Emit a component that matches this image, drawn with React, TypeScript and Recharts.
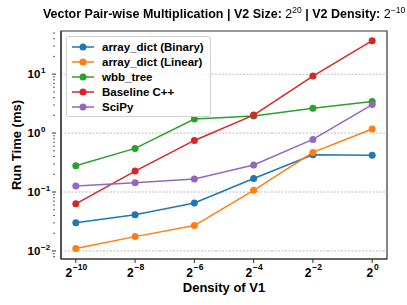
import React from 'react'
import {
  LineChart, Line, XAxis, YAxis, ReferenceLine, ReferenceArea, Label,
} from 'recharts'

// x = log2(density of V1)
const densityExp = [-10, -8, -6, -4, -2, 0]

const arrayDictBinary = [0.030, 0.041, 0.065, 0.17, 0.43, 0.42]
const arrayDictLinear = [0.011, 0.0175, 0.027, 0.107, 0.47, 1.17]
const wbbTree = [0.28, 0.55, 1.73, 1.95, 2.65, 3.45]
const baselineCpp = [0.063, 0.227, 0.75, 2.02, 9.3, 37]
const sciPy = [0.126, 0.144, 0.167, 0.287, 0.78, 3.05]

const majorY = [0.01, 0.1, 1, 10]
const minorY = [0.008, 0.009, 0.02, 0.03, 0.04, 0.05, 0.06, 0.07, 0.08, 0.09,
  0.2, 0.3, 0.4, 0.5, 0.6, 0.7, 0.8, 0.9, 2, 3, 4, 5, 6, 7, 8, 9, 20, 30, 40, 50]

const SERIES = [
  { key: 'binary', name: 'array_dict (Binary)', color: '#1f77b4', values: arrayDictBinary },
  { key: 'linear', name: 'array_dict (Linear)', color: '#ff7f0e', values: arrayDictLinear },
  { key: 'wbb', name: 'wbb_tree', color: '#2ca02c', values: wbbTree },
  { key: 'baseline', name: 'Baseline C++', color: '#d62728', values: baselineCpp },
  { key: 'scipy', name: 'SciPy', color: '#9467bd', values: sciPy },
]

const data = densityExp.map((x, i) => {
  const row: Record<string, number> = { x }
  SERIES.forEach(s => { row[s.key] = s.values[i] })
  return row
})

const FONT = '"Liberation Sans", Arial, Helvetica, sans-serif'
const AXIS = '#333'

function YTick({ x, y, payload }: any) {
  const v = payload.value
  const exp = Math.round(Math.log10(v))
  const isMajor = Math.abs(Math.pow(10, exp) - v) < 1e-9
  if (!isMajor) {
    return <line x1={x + 0} x2={x + 2} y1={y} y2={y} stroke={AXIS} strokeWidth={0.8} />
  }
  const sup = exp < 0 ? '\u2212' + Math.abs(exp) : String(exp)
  return (
    <g>
      <line x1={x - 1} x2={x + 3} y1={y} y2={y} stroke={AXIS} strokeWidth={1} />
      <text x={x - 19} y={y + 4} textAnchor="middle" fontFamily={FONT} fontWeight="bold" fontSize={11.5} fill="#000">
        10
      </text>
      <text x={x - 12} y={y - 1} textAnchor="start" fontFamily={FONT} fontWeight="bold" fontSize={8} fill="#000">
        {sup}
      </text>
    </g>
  )
}

function XTick({ x, y, payload }: any) {
  const v = payload.value
  const sup = v < 0 ? '\u2212' + Math.abs(v) : String(v)
  const supW = sup.length * 4.6
  const left = x - (7 + supW) / 2
  return (
    <g>
      <line x1={x} x2={x} y1={y - 8} y2={y - 4} stroke={AXIS} strokeWidth={1} />
      <text x={left} y={y + 10} fontFamily={FONT} fontWeight="bold" fontSize={12} fill="#000">2</text>
      <text x={left + 7.5} y={y + 2.5} fontFamily={FONT} fontWeight="bold" fontSize={8.5} fill="#000">{sup}</text>
    </g>
  )
}

function LegendBox() {
  return (
    <div
      style={{
        position: 'absolute', left: 66, top: 36,
        border: '1px solid #d0d0d0', borderRadius: 3, background: 'rgba(255,255,255,0.85)',
        padding: '3px 6px 2px 4px', fontFamily: FONT, fontWeight: 'bold', fontSize: 11.5,
      }}
    >
      {SERIES.map(s => (
        <div key={s.key} style={{ display: 'flex', alignItems: 'center', height: 14.8 }}>
          <svg width={24} height={10} style={{ marginRight: 7 }}>
            <line x1={1} x2={23} y1={5} y2={5} stroke={s.color} strokeWidth={1.5} />
            <circle cx={12} cy={5} r={3.5} fill={s.color} />
          </svg>
          <span style={{ color: '#000', whiteSpace: 'nowrap' }}>{s.name}</span>
        </div>
      ))}
    </div>
  )
}

export default function App() {
  return (
    <div style={{ position: 'fixed', left: 0, top: 0, width: 407, height: 305, background: '#fff' }}>
      <LineChart width={407} height={305} data={data} margin={{ top: 31, right: 20, left: 0, bottom: 0 }}>
        <XAxis
          dataKey="x"
          type="number"
          domain={[-10.5, 0.5]}
          ticks={densityExp}
          interval={0}
          allowDataOverflow
          axisLine={{ stroke: AXIS, strokeWidth: 1.2 }}
          tickLine={false}
          tick={<XTick />}
          height={46}
        >
          <Label value="Density of V1" position="insideBottom" offset={13}
            style={{ fontFamily: FONT, fontWeight: 'bold', fontSize: 13, fill: '#000' }} />
        </XAxis>
        <YAxis
          type="number"
          scale="log"
          domain={[0.0073, 54]}
          ticks={[...minorY, ...majorY].sort((a, b) => a - b)}
          interval={0}
          allowDataOverflow
          axisLine={{ stroke: AXIS, strokeWidth: 1.2 }}
          tickLine={false}
          tick={<YTick />}
          width={61}
        >
          <Label value="Run Time (ms)" angle={-90} position="insideLeft" offset={16}
            style={{ textAnchor: 'middle', fontFamily: FONT, fontWeight: 'bold', fontSize: 13, fill: '#000' }} />
        </YAxis>
        {majorY.map(v => (
          <ReferenceLine key={v} y={v} stroke="#aaa" strokeDasharray="2 1.5" strokeWidth={0.8} />
        ))}
        <ReferenceArea x1={-10.5} x2={0.5} y1={0.0073} y2={54} fill="none" stroke={AXIS} strokeWidth={1.2} />
        {SERIES.map(s => (
          <Line
            key={s.key}
            dataKey={s.key}
            name={s.name}
            stroke={s.color}
            strokeWidth={1.5}
            dot={{ r: 3.5, fill: s.color, stroke: s.color, strokeWidth: 0 }}
            activeDot={false}
            isAnimationActive={false}
          />
        ))}
      </LineChart>
      <LegendBox />
      <div
        style={{
          position: 'absolute', left: 0, width: 448, top: 7, textAlign: 'center',
          fontFamily: FONT, fontWeight: 'bold', fontSize: 12.5, color: '#000', whiteSpace: 'nowrap',
        }}
      >
        Vector Pair-wise Multiplication | V2 Size: <span style={{ fontWeight: 'normal' }}>2<sup style={{ fontSize: 8.5, verticalAlign: 5, lineHeight: 0 }}>20</sup></span> | V2 Density: <span style={{ fontWeight: 'normal' }}>2<sup style={{ fontSize: 8.5, verticalAlign: 5, lineHeight: 0 }}>{'\u221210'}</sup></span>
      </div>
    </div>
  )
}
